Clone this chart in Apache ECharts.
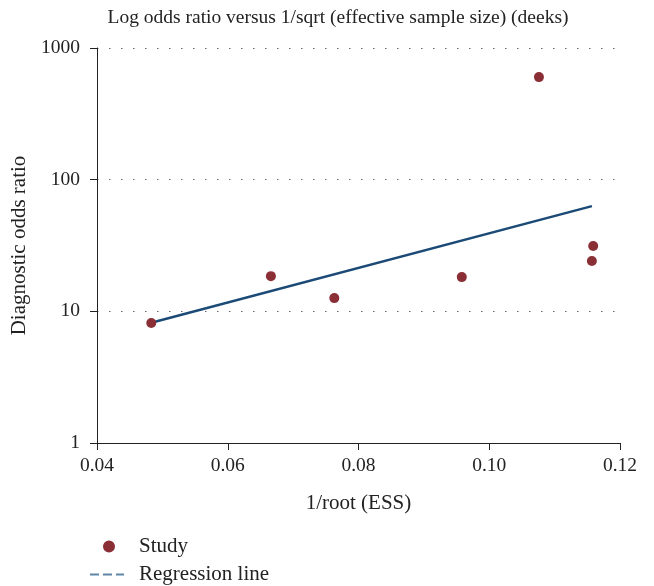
<!DOCTYPE html>
<html><head><meta charset="utf-8">
<script src="https://cdn.jsdelivr.net/npm/echarts@6/dist/echarts.min.js"></script>
<style>html,body{margin:0;padding:0;background:#fff}#c{width:654px;height:586px}</style>
</head><body><div id="c"></div>
<script>
const studyX = [0.0483, 0.0666, 0.0763, 0.0958, 0.1076, 0.1157, 0.1159];
const studyY = [8.15, 18.5, 12.6, 18.2, 601, 24.1, 31.3];
const regX = [0.0483, 0.1157];
const regY = [8.2, 63];
const yTicks = [1, 10, 100, 1000];
const FONT = 'Liberation Serif';

const chart = echarts.init(document.getElementById('c'));
chart.setOption({
  animation: false,
  textStyle: { fontFamily: FONT, color: '#222' },
  title: {
    text: 'Log odds ratio versus 1/sqrt (effective sample size) (deeks)',
    left: 333, textAlign: 'center', top: 3,
    textStyle: { fontFamily: FONT, fontSize: 19.5, fontWeight: 'normal', color: '#222' }
  },
  grid: { left: 97, right: 34, top: 48, bottom: 143 },
  xAxis: {
    type: 'value', min: 0.04, max: 0.12, interval: 0.02,
    name: '1/root (ESS)', nameLocation: 'middle', nameGap: 50,
    nameTextStyle: { fontFamily: FONT, fontSize: 21, color: '#222' },
    axisLine: { lineStyle: { color: '#222', width: 1 } },
    axisTick: { show: true, length: 7, lineStyle: { color: '#222' } },
    axisLabel: { fontFamily: FONT, fontSize: 19.5, color: '#222', margin: 13,
      formatter: v => v.toFixed(2) },
    splitLine: { show: false }
  },
  yAxis: {
    type: 'log', logBase: 10, min: 1, max: 1000,
    name: 'Diagnostic odds ratio', nameLocation: 'middle', nameGap: 64,
    nameTextStyle: { fontFamily: FONT, fontSize: 21, color: '#222' },
    axisLine: { show: true, lineStyle: { color: '#222', width: 1 } },
    axisTick: { show: true, length: 7, lineStyle: { color: '#222' } },
    axisLabel: { fontFamily: FONT, fontSize: 19.5, color: '#222', margin: 17,
      formatter: v => yTicks.includes(Math.round(v)) ? String(Math.round(v)) : '' },
    splitLine: { show: true, lineStyle: { type: [1.5, 10.5], color: '#666', width: 1 } },
    minorTick: { show: false }
  },
  legend: {
    orient: 'vertical', left: 90, top: 536, itemGap: 7, padding: 0,
    itemWidth: 44, itemHeight: 12,
    textStyle: { fontFamily: FONT, fontSize: 21, lineHeight: 21, color: '#222' },
    data: [
      { name: 'Study', icon: 'path://M19,0a6,6 0 1,0 0.01,0z M0,0h0.01v0.01h-0.01z M44,0h0.01v0.01h-0.01z', itemStyle: { color: '#8b2f37' } },
      { name: 'Regression line', icon: 'path://M0,5h9v2h-9z M13,5h9v2h-9z M26,5h8v2h-8z M0,0h0.01v0.01h-0.01z M44,12h0.01v0.01h-0.01z', itemStyle: { color: '#5f86a6' } }
    ]
  },
  series: [
    {
      name: 'Regression line', type: 'line', showSymbol: false, symbol: 'none',
      data: regX.map((x, i) => [x, regY[i]]),
      lineStyle: { color: '#1b4a76', width: 2.5 }, itemStyle: { color: '#5f86a6' }, z: 2
    },
    {
      name: 'Study', type: 'scatter', symbol: 'circle', symbolSize: 10,
      data: studyX.map((x, i) => [x, studyY[i]]),
      itemStyle: { color: '#8b2f37', opacity: 1 }, z: 3
    }
  ]
});
</script></body></html>
